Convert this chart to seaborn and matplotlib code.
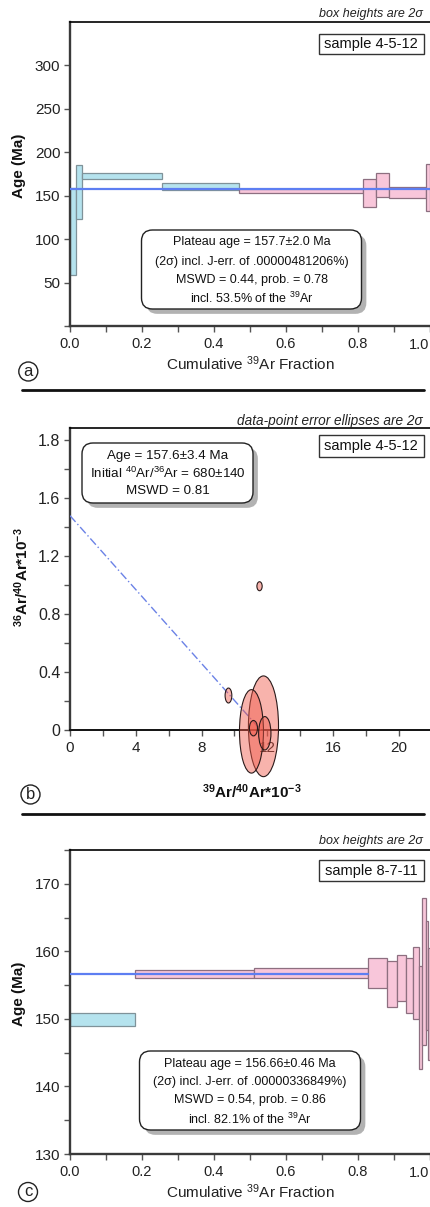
import numpy as np
import matplotlib.pyplot as plt
import seaborn as sns
import matplotlib.patheffects as pe
from matplotlib.patches import Ellipse, FancyBboxPatch, Rectangle
from matplotlib.lines import Line2D
from matplotlib.transforms import Affine2D
from matplotlib.ticker import MultipleLocator, FixedLocator, FixedFormatter

# (a) sample 4-5-12 age spectrum: cumulative 39Ar step edges, ages, 2s half heights
frac_a = [0, 0.016, 0.032, 0.256, 0.469, 0.813, 0.849, 0.887, 0.989, 1.0]
age_a = [109, 154, 172.3, 160.5, 156, 153, 162.6, 153.5, 159.5]
err_a = [50, 31, 3.5, 4.2, 2.3, 16.5, 14, 6, 26.7]
plat_a = [0, 0, 0, 0, 1, 1, 1, 1, 1]
plateau_a = 157.7

# (b) sample 4-5-12 inverse isochron: error ellipses
iso_x = [11.53, 9.64, 11.77, 11.04, 11.85, 11.16]
iso_y = [0.99, 0.237, 0.025, -0.01, -0.023, 0.012]
iso_w = [0.32, 0.41, 1.83, 1.46, 0.75, 0.49]
iso_h = [0.062, 0.103, 0.694, 0.575, 0.23, 0.106]
fit_x = [0, 11.6]
fit_y = [1.476, 0]

# (c) sample 8-7-11 age spectrum
frac_c = [0, 0.18, 0.512, 0.829, 0.88, 0.908, 0.933, 0.954, 0.969, 0.978, 0.988, 0.995, 1.0]
age_c = [149.85, 156.65, 156.75, 156.8, 155.2, 156.05, 154.9, 155.35, 150.25, 157.0, 156.4, 152.2]
err_c = [0.95, 0.65, 0.75, 2.2, 3.4, 3.45, 4.1, 5.35, 7.6, 10.85, 8.1, 8.3]
plat_c = [0, 1, 1, 1, 1, 1, 1, 1, 1, 1, 1, 1]
plateau_c = 156.66

frac_ticks = [0, 0.2, 0.4, 0.6, 0.8, 1.0]
frac_labels = ['0.0', '0.2', '0.4', '0.6', '0.8', '']

sns.set_theme(style="ticks")
plt.rcParams['font.family'] = ['Liberation Sans', 'DejaVu Sans']

W, H = 430, 1207
fig = plt.figure(figsize=(W / 100, H / 100), dpi=100)
PX = Affine2D().scale(1 / W, -1 / H).translate(0, 1) + fig.transFigure

BLUE, BLUE_E = '#b5e3ee', '#7f9299'
PINK, PINK_E = '#f8c6da', '#8d6f80'
LINE = '#5d7ef2'
SPINE = '#3a3a3a'


def px_axes(left, top, right, bottom):
    return fig.add_axes([left / W, 1 - bottom / H, (right - left) / W, (bottom - top) / H])


def style_axes(ax):
    ax.spines['right'].set_visible(False)
    for s in ['left', 'bottom']:
        ax.spines[s].set_color(SPINE)
        ax.spines[s].set_linewidth(1.7)
    ax.spines['top'].set_color('black')
    ax.spines['top'].set_linewidth(1.2)
    ax.tick_params(which='both', direction='out', color='#555555', width=1, pad=3, length=4)
    ax.set_facecolor('white')


def spectrum(ax, frac, age, err, plat, pline, line_end):
    frac, age, err = np.array(frac), np.array(age), np.array(err)
    fc = [PINK if p else BLUE for p in plat]
    ec = [PINK_E if p else BLUE_E for p in plat]
    ax.bar(frac[:-1], 2 * err, bottom=age - err, width=np.diff(frac), align='edge',
           color=fc, edgecolor=ec, linewidth=0.9, zorder=2)
    sns.lineplot(x=[0, line_end], y=[pline, pline], ax=ax, color=LINE, lw=1.6, zorder=4)
    ax.set_xlim(0, 1.0)
    ax.xaxis.set_major_locator(FixedLocator(frac_ticks))
    ax.xaxis.set_major_formatter(FixedFormatter(frac_labels))
    ax.xaxis.set_minor_locator(MultipleLocator(0.1))
    ax.tick_params(axis='x', labelsize=10.5, labelcolor='#222222', pad=4)
    ax.tick_params(axis='y', labelsize=11, labelcolor='#222222')
    # last tick label pulled inside the frame, as in the source figure
    ax.annotate('1.0', xy=(1.0, 0), xycoords='axes fraction', xytext=(-0.5, -8.8),
                textcoords='offset points', ha='right', va='top', fontsize=10.5, color='#222222')
    ax.set_xlabel(r'Cumulative $\mathregular{^{39}}$Ar Fraction', fontsize=11, color='#222222')
    ax.set_ylabel('Age (Ma)', fontsize=11, fontweight='bold', color='#111111')
    ax.xaxis.label.set_va('center')
    ax.yaxis.label.set_va('center')


def rounded_box(x0, y0, x1, y1, lines, ys, xc, fs):
    box = FancyBboxPatch((x0, y0), x1 - x0, y1 - y0, boxstyle='round,pad=0,rounding_size=11',
                         transform=PX, fc='white', ec='#222222', lw=1.0, zorder=5)
    box.set_path_effects([pe.SimplePatchShadow(offset=(3.5, -3.5), shadow_rgbFace='0.25', alpha=0.4),
                          pe.Normal()])
    fig.add_artist(box)
    for s, y in zip(lines, ys):
        fig.text(xc, y, s, transform=PX, ha='center', va='center', fontsize=fs, color='#111111', zorder=6)


def sample_box(x0, y0, x1, y1, s):
    fig.add_artist(Rectangle((x0, y0), x1 - x0, y1 - y0, transform=PX, fc='white',
                             ec='#333333', lw=1.0, zorder=5))
    fig.text((x0 + x1) / 2, (y0 + y1) / 2 + 0.5, s, transform=PX, ha='center', va='center',
             fontsize=10.5, color='#111111', zorder=6)


def letter(x, y, s):
    fig.text(x, y, s, transform=PX, ha='center', va='center', fontsize=12, color='#222222',
             bbox=dict(boxstyle='circle,pad=0.12', fc='white', ec='#222222', lw=1.0))


# ---------------- panel a
ax1 = px_axes(70, 22, 430, 326)
style_axes(ax1)
spectrum(ax1, frac_a, age_a, err_a, plat_a, plateau_a, 1.0)
ax1.set_ylim(0, 350)
ax1.yaxis.set_major_locator(FixedLocator([0, 50, 100, 150, 200, 250, 300]))
ax1.yaxis.set_major_formatter(FixedFormatter(['', '50', '100', '150', '200', '250', '300']))
ax1.yaxis.set_label_coords(-0.142, 0.526)
ax1.xaxis.set_label_coords(0.5, -0.123)

# ---------------- panel b
ax2 = px_axes(70, 428, 430, 780)
style_axes(ax2)
for x, y, w, h in zip(iso_x, iso_y, iso_w, iso_h):
    ax2.add_patch(Ellipse((x, y), w, h, fc=(0.94, 0.34, 0.28, 0.45), ec='#2a1a1a', lw=0.8, zorder=3))
sns.lineplot(x=fit_x, y=fit_y, ax=ax2, color='#6b82e6', lw=1.0, linestyle=(0, (6, 2, 1, 2)), zorder=2.6)
ax2.set_xlim(0, 21.9)
ax2.set_ylim(-0.345, 2.08)
ax2.spines['bottom'].set_position(('data', 0))
ax2.spines['bottom'].set_color('#111111')
ax2.spines['bottom'].set_linewidth(1.4)
ax2.spines['left'].set_bounds(0, 2.08)
ax2.xaxis.set_major_locator(MultipleLocator(4))
ax2.xaxis.set_minor_locator(MultipleLocator(2))
ax2.yaxis.set_major_locator(FixedLocator([0, 0.4, 0.8, 1.2, 1.6, 2.0]))
ax2.yaxis.set_major_formatter(FixedFormatter(['0', '0.4', '0.8', '1.2', '1.6', '1.8']))
ax2.yaxis.set_minor_locator(FixedLocator([0.2, 0.6, 1.0, 1.4, 1.8]))
ax2.tick_params(axis='x', labelsize=11, labelcolor='#222222', pad=4)
ax2.tick_params(axis='y', labelsize=11.5, labelcolor='#222222')
ax2.set_xlabel(r'$\mathregular{^{39}}$Ar/$\mathregular{^{40}}$Ar*10$\mathregular{^{-3}}$',
               fontsize=11, fontweight='bold', color='#111111')
ax2.set_ylabel(r'$\mathregular{^{36}}$Ar/$\mathregular{^{40}}$Ar*10$\mathregular{^{-3}}$',
               fontsize=11, fontweight='bold', color='#111111')
ax2.xaxis.label.set_va('center')
ax2.yaxis.label.set_va('center')
ax2.xaxis.set_label_coords(0.505, -0.033)
ax2.yaxis.set_label_coords(-0.135, 0.576)

# ---------------- panel c
ax3 = px_axes(70, 850, 430, 1154)
style_axes(ax3)
spectrum(ax3, frac_c, age_c, err_c, plat_c, plateau_c, 0.829)
ax3.set_ylim(130, 175)
ax3.yaxis.set_major_locator(MultipleLocator(10))
ax3.yaxis.set_minor_locator(MultipleLocator(5))
ax3.yaxis.set_label_coords(-0.142, 0.526)
ax3.xaxis.set_label_coords(0.5, -0.124)

# ---------------- annotations
for y, s, fs in [(13.5, 'box heights are 2σ', 9), (421, 'data-point error ellipses are 2σ', 9.8),
                 (841, 'box heights are 2σ', 9)]:
    fig.text(423, y, s, transform=PX, ha='right', va='center', fontsize=fs, style='italic', color='#222222')

sample_box(319, 33.5, 423.5, 53.5, 'sample 4-5-12')
sample_box(319, 435, 423.5, 456.5, 'sample 4-5-12')
sample_box(319, 860, 423.5, 881, 'sample 8-7-11')

rounded_box(141.5, 230, 361.5, 309,
            ['Plateau age = 157.7±2.0 Ma', '(2σ) incl. J-err. of .00000481206%)',
             'MSWD = 0.44, prob. = 0.78', r'incl. 53.5% of the $\mathregular{^{39}}$Ar'],
            [242, 261.5, 280, 298.5], 251.5, 9)
rounded_box(82, 443, 253, 503,
            ['Age = 157.6±3.4 Ma', r'Initial $\mathregular{^{40}}$Ar/$\mathregular{^{36}}$Ar = 680±140',
             'MSWD = 0.81'],
            [455.5, 473.5, 491], 167.5, 9.6)
rounded_box(139.5, 1051, 360.5, 1130,
            ['Plateau age = 156.66±0.46 Ma', '(2σ) incl. J-err. of .00000336849%)',
             'MSWD = 0.54, prob. = 0.86', r'incl. 82.1% of the $\mathregular{^{39}}$Ar'],
            [1063.5, 1082, 1100.5, 1119.5], 250, 9)

letter(28.3, 371.5, 'a')
letter(30.5, 794.5, 'b')
letter(28, 1192, 'c')

for y in [390, 813.5]:
    fig.add_artist(Line2D([22, 424], [y, y], transform=PX, color='#111111', lw=2.0))

plt.savefig('out.png', dpi=100)
